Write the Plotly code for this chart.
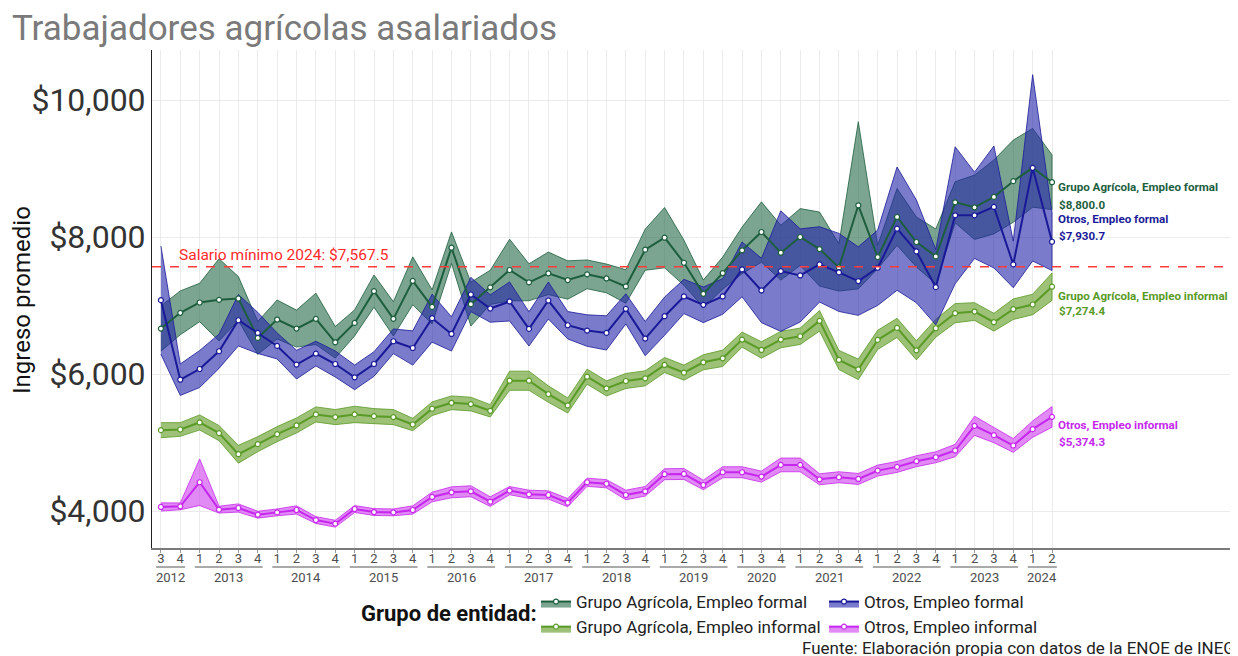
import plotly.graph_objects as go

# ---------------- data ----------------
trimestre = ["3", "4",
             "1", "2", "3", "4", "1", "2", "3", "4", "1", "2", "3", "4",
             "1", "2", "3", "4", "1", "2", "3", "4", "1", "2", "3", "4",
             "1", "2", "3", "4",
             "1", "3", "4",
             "1", "2", "3", "4", "1", "2", "3", "4", "1", "2", "3", "4",
             "1", "2"]
anio = [2012, 2012,
        2013, 2013, 2013, 2013, 2014, 2014, 2014, 2014, 2015, 2015, 2015, 2015,
        2016, 2016, 2016, 2016, 2017, 2017, 2017, 2017, 2018, 2018, 2018, 2018,
        2019, 2019, 2019, 2019,
        2020, 2020, 2020,
        2021, 2021, 2021, 2021, 2022, 2022, 2022, 2022, 2023, 2023, 2023, 2023,
        2024, 2024]

agr_formal = [6663, 6893, 7044, 7083, 7102, 6527, 6795, 6663, 6805, 6463,
              6746, 7210, 6805, 7360, 6980, 7844, 7020, 7265, 7518, 7339,
              7470, 7372, 7455, 7395, 7278, 7815, 7990, 7624, 7171, 7473,
              7805, 8073, 7771, 8000, 7824, 7556, 8463, 7707, 8293, 7927,
              7717, 8507, 8434, 8585, 8815, 9010, 8800.0]
agr_formal_err = [330, 320, 280, 600, 320, 240, 285, 270, 375, 230,
                  190, 235, 250, 350, 250, 230, 320, 250, 450, 270,
                  310, 280, 210, 210, 245, 300, 440, 330, 200, 235,
                  340, 440, 400, 415, 540, 345, 1220, 170, 415, 365,
                  400, 300, 470, 540, 600, 575, 400]

agr_informal = [5180, 5190, 5293, 5137, 4829, 4976, 5122, 5249, 5410, 5371,
                5410, 5385, 5371, 5263, 5493, 5580, 5561, 5463, 5902, 5902,
                5707, 5541, 5961, 5790, 5898, 5937, 6132, 6020, 6171, 6229,
                6502, 6351, 6502, 6551, 6776, 6205, 6068, 6498, 6673, 6346,
                6668, 6888, 6912, 6756, 6946, 7015, 7274.4]
agr_informal_err = [110, 100, 110, 110, 130, 110, 110, 110, 110, 110,
                    120, 110, 110, 90, 100, 100, 100, 90, 140, 140,
                    120, 110, 110, 110, 110, 110, 110, 110, 110, 120,
                    110, 120, 120, 120, 150, 140, 150, 140, 140, 140,
                    130, 140, 130, 130, 150, 150, 200]

otros_formal = [7078, 5917, 6073, 6332, 6785, 6600, 6410, 6137, 6298, 6146,
                5951, 6146, 6478, 6380, 6815, 6585, 7161, 6956, 7059, 6658,
                7073, 6712, 6634, 6600, 6951, 6517, 6844, 7132, 7010, 7132,
                7527, 7220, 7502, 7439, 7600, 7483, 7356, 7551, 8122, 7790,
                7268, 8317, 8317, 8439, 7600, 9010, 7930.7]
otros_formal_err = [790, 230, 270, 250, 375, 300, 190, 210, 180, 190,
                    180, 180, 180, 250, 350, 250, 250, 200, 285, 250,
                    270, 200, 230, 250, 220, 250, 280, 250, 260, 260,
                    400, 470, 880, 680, 550, 570, 500, 550, 900, 750,
                    550, 1000, 630, 890, 340, 1360, 420]

otros_informal = [4059, 4068, 4420, 4020, 4044, 3946, 3980, 4015, 3868, 3815,
                  4029, 3985, 3980, 4015, 4205, 4273, 4288, 4137, 4298, 4244,
                  4234, 4122, 4420, 4398, 4234, 4288, 4537, 4541, 4380, 4566,
                  4566, 4502, 4673, 4673, 4463, 4493, 4468, 4590, 4644, 4727,
                  4785, 4883, 5244, 5107, 4956, 5195, 5374.3]
otros_informal_err = [60, 50, 340, 50, 60, 50, 50, 60, 50, 50,
                      50, 50, 50, 60, 70, 80, 80, 70, 60, 60,
                      60, 60, 60, 60, 70, 70, 80, 80, 70, 80,
                      80, 80, 100, 100, 80, 80, 80, 80, 80, 80,
                      80, 90, 140, 110, 100, 120, 150]

salario_minimo = 7567.5
y_ticks = [4000, 6000, 8000, 10000]

# ---------------- figure ----------------
OFF = 8                      # page body margin
W, H = 1238 - OFF, 656 - OFF
ML, MR, MT, MB = 152 - OFF, 0, 50 - OFF, 108
PW, PH = W - ML - MR, H - MT - MB
idx = list(range(len(trimestre)))


def px(col):  # page pixel column -> paper x
    return (col - OFF - ML) / PW


def py(row):  # page pixel row -> paper y
    return (H - MB - (row - OFF)) / PH


series = [
    dict(name="Grupo Agrícola, Empleo formal", y=agr_formal, e=agr_formal_err,
         line="#1d5e3e", fill="rgba(30,100,65,0.58)", legend="legend",
         lab_shift=(-5, -23)),
    dict(name="Grupo Agrícola, Empleo informal", y=agr_informal, e=agr_informal_err,
         line="#5a9a26", fill="rgba(95,155,35,0.62)", legend="legend",
         lab_shift=(-9, -24)),
    dict(name="Otros, Empleo formal", y=otros_formal, e=otros_formal_err,
         line="#1a1a98", fill="rgba(35,35,170,0.60)", legend="legend2",
         lab_shift=(23, 6)),
    dict(name="Otros, Empleo informal", y=otros_informal, e=otros_informal_err,
         line="#c626ee", fill="rgba(205,60,240,0.60)", legend="legend2",
         lab_shift=(-8, -25)),
]

fig = go.Figure()

# ribbons first
for s in series:
    up = [v + e for v, e in zip(s["y"], s["e"])]
    lo = [v - e for v, e in zip(s["y"], s["e"])]
    fig.add_trace(go.Scatter(
        x=idx + idx[::-1], y=up + lo[::-1], mode="lines", fill="toself",
        fillcolor=s["fill"], line=dict(color=s["line"], width=0.8),
        showlegend=False, hoverinfo="skip"))

# lines + markers
for s in series:
    fig.add_trace(go.Scatter(
        x=idx, y=s["y"], mode="lines", line=dict(width=0, color=s["fill"]),
        showlegend=False, hoverinfo="skip"))
    fig.add_trace(go.Scatter(
        x=idx, y=s["y"], mode="lines+markers", name=s["name"],
        fill="tonexty", fillcolor=s["fill"],
        line=dict(color=s["line"], width=2),
        marker=dict(size=5, color="white", line=dict(color=s["line"], width=1.2)),
        legend=s["legend"]))

# min wage line
fig.add_shape(type="line", xref="paper", x0=0, x1=1, yref="y",
              y0=salario_minimo, y1=salario_minimo,
              line=dict(color="#ff3b3b", width=1.5, dash="dash"))
fig.add_annotation(x=1, y=salario_minimo, xref="x", yref="y", xanchor="left",
                   yanchor="bottom", yshift=1, xshift=-3,
                   text=f"Salario mínimo 2024: ${salario_minimo:,.1f}",
                   showarrow=False, font=dict(size=15.5, color="#ff2a2a"))

# end labels
last = idx[-1]
for s in series:
    v = s["y"][-1]
    fig.add_annotation(x=last, y=v, xref="x", yref="y", xanchor="left",
                       yanchor="middle", xshift=4, yshift=s["lab_shift"][0],
                       text=f"<b>{s['name']}</b>", showarrow=False,
                       font=dict(size=11.6, color=s["line"]))
    fig.add_annotation(x=last, y=v, xref="x", yref="y", xanchor="left",
                       yanchor="middle", xshift=5, yshift=s["lab_shift"][1],
                       text=f"<b>${v:,.1f}</b>", showarrow=False,
                       font=dict(size=11.6, color=s["line"]))

# year groups under the quarter ticks
years = []
for i, a in enumerate(anio):
    if not years or years[-1][0] != a:
        years.append([a, i, i])
    else:
        years[-1][2] = i
for a, i0, i1 in years:
    fig.add_shape(type="line", xref="x", yref="paper", x0=i0 - 0.25, x1=i1 + 0.25,
                  y0=py(567), y1=py(567), line=dict(color="#555555", width=1))
    fig.add_annotation(x=(i0 + i1) / 2, y=py(577), xref="x", yref="paper",
                       yanchor="middle", text=str(a), showarrow=False,
                       font=dict(size=13, color="#4d4d4d"))

# y axis title
fig.add_annotation(x=px(22), y=py(300), xref="paper", yref="paper",
                   xanchor="center", yanchor="middle", textangle=-90,
                   text="Ingreso promedio", showarrow=False,
                   font=dict(size=24, color="#111111"))
# legend title
fig.add_annotation(x=px(539), y=py(613), xref="paper", yref="paper",
                   xanchor="right", yanchor="middle", text="<b>Grupo de entidad:</b>",
                   showarrow=False, font=dict(size=22, color="#111111"))
# caption
fig.add_annotation(x=px(800), y=py(648), xref="paper", yref="paper",
                   xanchor="left", yanchor="middle",
                   text="Fuente: Elaboración propia con datos de la ENOE de INEGI",
                   showarrow=False, font=dict(size=17, color="#222222"))

leg_common = dict(yref="container", xref="container", y=1 - (584 - OFF) / H,
                  xanchor="left", yanchor="top", orientation="v",
                  font=dict(size=17, color="#222222"), traceorder="normal",
                  bgcolor="rgba(0,0,0,0)", tracegroupgap=0)

fig.update_layout(
    width=W, height=H,
    margin=dict(l=ML, r=MR, t=MT, b=MB, autoexpand=False),
    paper_bgcolor="white", plot_bgcolor="white",
    font=dict(family="Roboto, Arial, sans-serif"),
    title=dict(text="Trabajadores agrícolas asalariados", xref="container",
               x=4 / W, xanchor="left", yref="container", y=1 - 20 / H,
               yanchor="middle", font=dict(size=35, color="#7a7a7a")),
    xaxis=dict(range=[-0.46, 55.6], tickmode="array", tickvals=idx,
               ticktext=trimestre, tickfont=dict(size=13, color="#4d4d4d"),
               showgrid=True, gridcolor="#ebebeb", gridwidth=1,
               showline=True, linecolor="#7a7a7a", linewidth=2,
               ticks="outside", ticklen=3, tickcolor="#999999",
               ticklabelstandoff=-6,
               zeroline=False, fixedrange=True, automargin=False),
    yaxis=dict(range=[3460, 10730], tickmode="array", tickvals=y_ticks,
               ticktext=[f"${v:,}" for v in y_ticks],
               tickfont=dict(size=32, color="#333333"),
               showgrid=True, gridcolor="#ebebeb", gridwidth=1,
               showline=True, linecolor="#222222", linewidth=1,
               ticklabelstandoff=-1,
               zeroline=False, ticks="", fixedrange=True, automargin=False),
    legend=dict(x=(536 - OFF) / W, **leg_common),
    legend2=dict(x=(824 - OFF) / W, **leg_common),
    showlegend=True,
)

fig.write_html("out.html")
